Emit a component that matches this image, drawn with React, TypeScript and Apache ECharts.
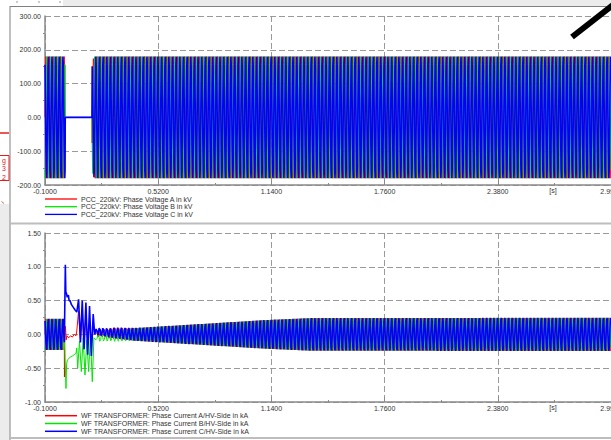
import React, { useEffect, useRef } from "react";
import * as echarts from "echarts";

// ---- axes ----
const X_MIN = -0.1;
const X_MAX = 3.0;
const X_STEP = 0.62;
const xTickLabels = ["-0.1000", "0.5200", "1.1400", "1.7600", "2.3800", "2.9999"];
const voltageAxis = { min: -200, max: 300, step: 100 };
const currentAxis = { min: -1.0, max: 1.5, step: 0.5 };

// ---- names / colours ----
const voltageSeriesNames = [
  "PCC_220kV: Phase Voltage A in kV",
  "PCC_220kV: Phase Voltage B in kV",
  "PCC_220kV: Phase Voltage C in kV",
];
const currentSeriesNames = [
  "WF TRANSFORMER: Phase Current A/HV-Side in kA",
  "WF TRANSFORMER: Phase Current B/HV-Side in kA",
  "WF TRANSFORMER: Phase Current C/HV-Side in kA",
];
const phaseColors = ["#ff0000", "#00e600", "#0000ff"];
const phaseWidths = [1, 1, 1.6];

// ---- waveform carrier: 50 Hz, one cycle sampled 12 times ----
const FREQ_HZ = 50;
const cycleShape = [0, 0.5, 0.866, 1, 0.866, 0.5, 0, -0.5, -0.866, -1, -0.866, -0.5];
const phaseShift = [0, 8, 4];

// ---- voltage (kV) envelopes ----
const voltagePreT = [-0.1, 0.01];
const voltagePreAmp = [180, 180];
const voltageFault = [
  [0.011, 0],
  [0.157, 0],
];
const voltagePostT = [0.158, 0.163, 0.172, 3.0];
const voltagePostAmp = [150, 172, 180, 180];

// ---- current (kA) ----
const currentPreT = [-0.1, 0.005];
const currentPreAmp = [0.23, 0.23];
const currentPostT = [0.19, 0.5, 0.8, 1.1, 1.35, 3.0];
const currentPostAmp = [0.06, 0.11, 0.16, 0.21, 0.24, 0.245];
const currentOffsetT = [0.19, 0.4];
const currentOffsetA = [0.02, 0];
const currentOffsetB = [-0.05, 0];
const currentOffsetC = [0.04, 0];

// fault transients [t, kA]
const currentFaultA = [
  [0.0055, 0.15], [0.0065, -0.63], [0.009, 0.1], [0.012, 0.12], [0.016, -0.08], [0.02, -0.02],
  [0.03, -0.05], [0.04, -0.02], [0.05, -0.04], [0.06, 0.0], [0.07, -0.02], [0.074, 0.05],
  [0.084, 0.35], [0.094, -0.1], [0.104, 0.3], [0.114, -0.12], [0.124, 0.28], [0.134, -0.15],
  [0.144, 0.2], [0.154, -0.1], [0.164, 0.1], [0.175, 0.0], [0.185, 0.03],
];
const currentFaultB = [
  [0.006, -0.1], [0.009, -0.25], [0.015, -0.8], [0.018, -0.45], [0.022, -0.38], [0.03, -0.36],
  [0.04, -0.33], [0.05, -0.32], [0.06, -0.3], [0.07, -0.28], [0.074, -0.2],
  [0.079, -0.5], [0.089, -0.1], [0.099, -0.55], [0.109, -0.05], [0.119, -0.6], [0.129, -0.08],
  [0.139, -0.55], [0.149, -0.02], [0.159, -0.7], [0.168, -0.05], [0.178, -0.08], [0.185, -0.06],
];
const currentFaultC = [
  [0.006, -0.1], [0.0114, 1.03], [0.014, 0.63], [0.018, 0.6], [0.022, 0.55], [0.028, 0.58],
  [0.032, 0.5], [0.037, 0.5], [0.045, 0.44], [0.055, 0.4], [0.065, 0.36], [0.074, 0.33],
  [0.084, 0.52], [0.094, -0.12], [0.104, 0.5], [0.114, -0.22], [0.124, 0.47], [0.134, -0.3],
  [0.144, 0.42], [0.154, -0.32], [0.164, 0.3], [0.172, 0.0], [0.18, 0.08], [0.185, 0.05],
];

const DT = 1 / (FREQ_HZ * cycleShape.length);

function envAt(ts: number[], vs: number[], t: number): number {
  if (t <= ts[0]) return vs[0];
  for (let i = 1; i < ts.length; i++) {
    if (t <= ts[i]) {
      const f = (t - ts[i - 1]) / (ts[i] - ts[i - 1]);
      return vs[i - 1] + f * (vs[i] - vs[i - 1]);
    }
  }
  return vs[vs.length - 1];
}

function wave(tStart: number, tEnd: number, envT: number[], envA: number[], shift: number, offT: number[], offV: number[]) {
  const pts: number[][] = [];
  const L = cycleShape.length;
  const n0 = Math.ceil((tStart - X_MIN) / DT - 1e-9);
  const n1 = Math.floor((tEnd - X_MIN) / DT + 1e-9);
  for (let n = n0; n <= n1; n++) {
    const t = X_MIN + n * DT;
    const s = cycleShape[(n + shift) % L];
    pts.push([t - X_MIN, envAt(envT, envA, t) * s + envAt(offT, offV, t)]);
  }
  return pts;
}

const shiftPts = (arr: number[][]) => arr.map(([t, v]) => [t - X_MIN, v]);

function voltageData(k: number) {
  return [
    ...wave(X_MIN, voltagePreT[1], voltagePreT, voltagePreAmp, phaseShift[k], [0], [0]),
    ...shiftPts(voltageFault),
    ...wave(voltagePostT[0], X_MAX, voltagePostT, voltagePostAmp, phaseShift[k], [0], [0]),
  ];
}

const currentFaults = [currentFaultA, currentFaultB, currentFaultC];
const currentOffsets = [currentOffsetA, currentOffsetB, currentOffsetC];

function currentData(k: number) {
  return [
    ...wave(X_MIN, currentPreT[1], currentPreT, currentPreAmp, phaseShift[k], [0], [0]),
    ...shiftPts(currentFaults[k]),
    ...wave(currentPostT[0], X_MAX, currentPostT, currentPostAmp, phaseShift[k], currentOffsetT, currentOffsets[k]),
  ];
}

const FONT = "Liberation Sans";
const AX = "#8a8a8a";

function xAxisCfg(gridIndex: number) {
  return {
    type: "value",
    gridIndex,
    min: 0,
    max: X_MAX - X_MIN,
    interval: X_STEP,
    axisLine: { show: true, onZero: false, lineStyle: { color: AX, width: 1.5 } },
    axisTick: { show: true, inside: true, length: 5, lineStyle: { color: AX } },
    minorTick: { show: true, splitNumber: 2, length: 2, lineStyle: { color: AX } },
    splitLine: { show: true, lineStyle: { color: "#9a9a9a", type: [6, 3], width: 1 } },
    axisLabel: {
      fontSize: 7,
      color: "#333",
      margin: 3,
      fontFamily: FONT,
      showMinLabel: true,
      showMaxLabel: true,
      hideOverlap: false,
      formatter: (v: number) => xTickLabels[Math.round(v / X_STEP)] ?? "",
    },
  };
}

function yAxisCfg(gridIndex: number, ax: { min: number; max: number; step: number }) {
  return {
    type: "value",
    gridIndex,
    min: ax.min,
    max: ax.max,
    interval: ax.step,
    axisLine: { show: true, lineStyle: { color: AX, width: 1.5 } },
    axisTick: { show: false },
    minorTick: { show: true, splitNumber: 2, length: 2, lineStyle: { color: AX } },
    splitLine: { show: true, lineStyle: { color: "#9a9a9a", type: [6, 3], width: 1 } },
    axisLabel: { fontSize: 7, color: "#333", margin: 4, fontFamily: FONT, formatter: (v: number) => v.toFixed(2) },
  };
}

function legendGraphics(names: string[], y0: number, dy: number, lw: number) {
  const out: any[] = [];
  names.forEach((n, i) => {
    const y = y0 + dy * i;
    out.push({ type: "line", shape: { x1: 45, y1: y, x2: 77, y2: y }, style: { stroke: phaseColors[i], lineWidth: lw } });
    out.push({
      type: "text",
      x: 81,
      y,
      style: { text: n, fontSize: 7, fontFamily: FONT, fill: "#333", verticalAlign: "middle", align: "left" },
    });
  });
  return out;
}

export default function App() {
  const ref = useRef<HTMLDivElement>(null);
  useEffect(() => {
    if (!ref.current) return;
    const chart = echarts.init(ref.current, undefined, { renderer: "svg" });
    const series: any[] = [];
    [0, 1, 2].forEach((k) =>
      series.push({
        type: "line",
        name: voltageSeriesNames[k],
        xAxisIndex: 0,
        yAxisIndex: 0,
        data: voltageData(k),
        showSymbol: false,
        symbol: "none",
        silent: true,
        clip: true,
        lineStyle: { color: phaseColors[k], width: phaseWidths[k] },
        z: 2 + k,
      })
    );
    [0, 1, 2].forEach((k) =>
      series.push({
        type: "line",
        name: currentSeriesNames[k],
        xAxisIndex: 1,
        yAxisIndex: 1,
        data: currentData(k),
        showSymbol: false,
        symbol: "none",
        silent: true,
        clip: true,
        lineStyle: { color: phaseColors[k], width: phaseWidths[k] },
        z: 2 + k,
      })
    );

    const graphic: any[] = [
      // top strip
      { type: "rect", shape: { x: 63, y: 0, width: 548, height: 6 }, style: { fill: "#ececec" } },
      { type: "line", shape: { x1: 17, y1: 1, x2: 17, y2: 3 }, style: { stroke: "#999", lineWidth: 1 } },
      { type: "line", shape: { x1: 39, y1: 1, x2: 39, y2: 3 }, style: { stroke: "#999", lineWidth: 1 } },
      { type: "line", shape: { x1: 60, y1: 1, x2: 60, y2: 3 }, style: { stroke: "#999", lineWidth: 1 } },
      { type: "line", shape: { x1: 10, y1: 6.5, x2: 611, y2: 6.5 }, style: { stroke: "#808080", lineWidth: 1 } },
      // left strip
      { type: "rect", shape: { x: 0, y: 204, width: 9.5, height: 236 }, style: { fill: "#ececec" } },
      { type: "line", shape: { x1: 10, y1: 6, x2: 10, y2: 440 }, style: { stroke: "#808080", lineWidth: 1 } },
      { type: "line", shape: { x1: 0, y1: 133, x2: 9, y2: 133 }, style: { stroke: "#e02020", lineWidth: 1.5 } },
      { type: "rect", shape: { x: -2, y: 155.5, width: 11, height: 25 }, style: { fill: "none", stroke: "#e02020", lineWidth: 1 } },
      { type: "text", x: 2, y: 160, style: { text: "g", fontSize: 7, fontFamily: FONT, fill: "#e02020", verticalAlign: "middle" } },
      { type: "text", x: 2, y: 168.5, style: { text: "3", fontSize: 7, fontFamily: FONT, fill: "#e02020", verticalAlign: "middle" } },
      { type: "text", x: 2, y: 177, style: { text: "2", fontSize: 7, fontFamily: FONT, fill: "#e02020", verticalAlign: "middle" } },
      { type: "line", shape: { x1: 1.5, y1: 201.5, x2: 4, y2: 203.5 }, style: { stroke: "#e06060", lineWidth: 1 } },
      // panel separators
      { type: "line", shape: { x1: 10, y1: 223.5, x2: 611, y2: 223.5 }, style: { stroke: "#bdbdbd", lineWidth: 2 } },
      { type: "line", shape: { x1: 10, y1: 438, x2: 611, y2: 438 }, style: { stroke: "#bdbdbd", lineWidth: 2 } },
      // unit labels
      { type: "text", x: 553, y: 190.5, style: { text: "[s]", fontSize: 7, fontFamily: FONT, fill: "#333", align: "center", verticalAlign: "middle" } },
      { type: "text", x: 553, y: 407, style: { text: "[s]", fontSize: 7, fontFamily: FONT, fill: "#333", align: "center", verticalAlign: "middle" } },
      // legends
      ...legendGraphics(voltageSeriesNames, 199, 7.7, 1.3),
      ...legendGraphics(currentSeriesNames, 415.7, 7.8, 1.5),
      // black pointer stroke
      { type: "line", z: 100, shape: { x1: 572, y1: 37, x2: 618, y2: 1 }, style: { stroke: "#000", lineWidth: 6 } },
    ];

    chart.setOption({
      animation: false,
      backgroundColor: "#fff",
      textStyle: { fontFamily: FONT },
      grid: [
        { left: 45, right: 0, top: 16, height: 169, containLabel: false, outerBoundsMode: "none" },
        { left: 45, right: 0, top: 233, height: 169, containLabel: false, outerBoundsMode: "none" },
      ],
      xAxis: [xAxisCfg(0), xAxisCfg(1)],
      yAxis: [yAxisCfg(0, voltageAxis), yAxisCfg(1, currentAxis)],
      series,
      graphic,
    });
    return () => chart.dispose();
  }, []);
  return <div ref={ref} style={{ position: "fixed", left: 0, top: 0, width: 611, height: 440, background: "#fff" }} />;
}
